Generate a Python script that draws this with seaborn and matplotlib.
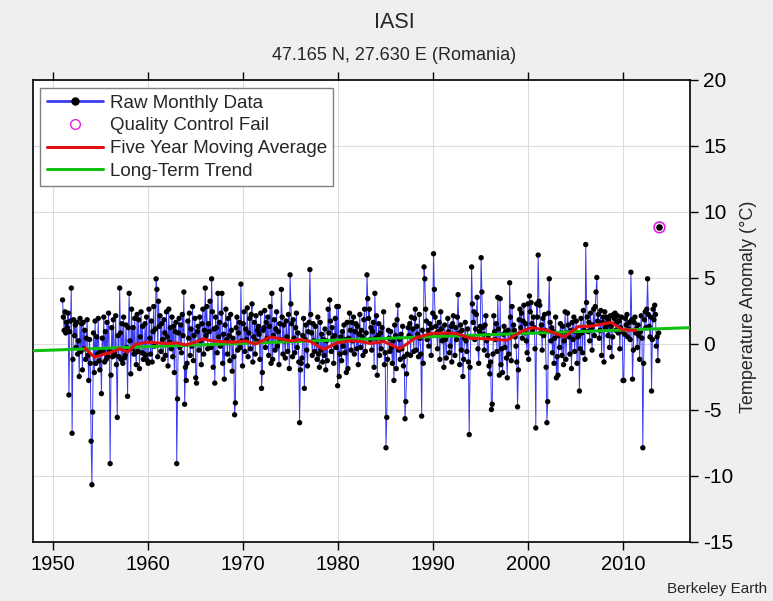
import numpy as np
import pandas as pd
import seaborn as sns
import matplotlib.pyplot as plt
from matplotlib.lines import Line2D

# valeurs (anomalies mensuelles, degC)
first_year = 1951
raw_monthly = [
    [3.3, 2.0, 1.0, 2.4, 0.8, 1.6, 1.2, 2.3, -3.9, 0.9, 1.7, 4.2],
    [-6.8, -1.2, 1.8, 0.6, 1.4, -0.3, 1.6, -0.8, 0.2, -2.5, 1.9, -0.6],
    [1.5, -2.0, 1.6, -0.4, 1.0, -1.2, 0.4, 1.8, -0.9, -2.8, 0.3, -1.5],
    [-7.4, -10.7, -5.2, 0.8, -2.2, 1.7, -1.5, 0.5, -0.8, 1.9, -1.3, -2.0],
    [-0.6, -3.8, 0.4, -0.6, 2.0, -1.4, 0.9, -1.2, 1.6, -1.0, 2.3, -0.5],
    [-9.1, -2.4, 1.2, -1.0, 1.8, -0.7, -0.9, 2.1, -1.6, -5.6, 0.6, -1.0],
    [4.2, 0.8, -1.2, 1.5, -1.5, 2.0, -1.1, -0.9, 1.4, -0.3, -4.0, 1.2],
    [3.8, 0.2, -2.3, 2.6, -0.4, 1.2, -0.8, 1.9, -0.7, -1.6, 2.2, -0.6],
    [1.8, -1.9, 0.5, 2.4, -0.7, 1.3, -1.2, -0.8, 1.5, -0.9, 2.0, -1.3],
    [-1.5, 2.6, 0.4, -0.8, 1.7, -1.4, 0.9, 2.8, -0.2, 1.1, 4.9, 4.1],
    [-1.0, 3.2, 1.3, 2.1, -0.6, 1.5, 0.3, -1.2, 1.8, 0.8, -0.9, 2.4],
    [0.5, -1.7, 2.6, 0.1, 1.2, -0.4, 2.0, -1.0, 1.3, -2.2, 0.9, 1.6],
    [-9.1, -4.2, 0.8, 1.9, -0.3, 1.4, -0.7, 2.2, 0.6, 3.9, -4.6, -1.8],
    [-2.8, -1.5, 1.7, 0.4, 2.3, -0.9, 1.1, -0.2, 2.8, -1.3, 0.6, 1.9],
    [-2.6, -3.0, 0.9, 1.3, -0.5, 2.0, 0.2, -1.6, 1.5, 2.6, -0.8, 1.0],
    [4.2, 0.6, 2.8, -0.4, 1.5, 0.9, 3.2, -0.3, 4.9, 2.4, -1.8, 1.1],
    [-3.0, 2.0, 1.2, -0.7, 3.8, 0.5, 1.6, -0.2, 2.3, 3.8, -1.5, 0.7],
    [-2.7, 1.4, 2.6, 0.3, -0.8, 1.9, 0.6, -1.3, 2.2, 1.0, -2.1, 0.4],
    [-1.0, -5.4, -4.5, 1.2, 2.0, -0.5, 0.8, 1.6, -0.3, 4.5, 0.2, -1.7],
    [1.5, 2.4, -0.6, 1.1, 0.3, 2.7, -1.0, 0.8, 1.9, -0.4, 2.2, 3.0],
    [-1.4, 0.5, 1.6, -0.8, 2.1, 0.2, 1.0, 1.3, 0.7, -1.2, 2.3, -3.4],
    [-2.2, 1.0, 1.2, 2.5, -0.3, 1.6, 0.4, 2.0, -0.9, 1.3, 2.8, -1.5],
    [3.8, -1.2, 0.6, 1.8, -0.5, 1.1, 2.4, -0.2, 0.9, -1.6, 1.5, 0.3],
    [4.1, 2.0, -0.8, 1.4, 0.2, -1.1, 1.7, 0.5, -0.6, 2.2, -1.9, 5.2],
    [3.0, 1.5, -1.0, 1.8, 0.4, -0.7, 1.2, 2.3, -0.3, 0.8, -1.4, -6.0],
    [-2.0, -1.5, -1.1, 0.6, 1.9, -3.4, 0.3, 1.4, -0.5, -1.7, 0.9, 1.6],
    [5.6, 2.2, 0.8, -0.9, 1.5, 0.2, -0.6, 1.3, 0.1, -1.2, 2.0, -0.8],
    [-1.8, 1.6, -0.5, 0.7, -1.4, 0.3, -0.9, 1.1, -2.0, 0.2, -1.3, 2.6],
    [0.8, 3.3, 1.7, -0.6, 1.2, 0.4, -1.5, 0.6, 1.9, -0.3, 2.8, -3.2],
    [2.8, -2.5, -0.8, 0.5, -1.3, 0.9, -0.2, 1.4, -0.7, 0.3, -2.2, 1.6],
    [-1.9, 0.4, 2.3, 1.0, -0.5, 1.6, 0.2, 2.0, -0.8, 0.9, 1.5, -0.4],
    [1.3, -1.6, 0.7, 2.2, -0.3, 1.0, 0.5, -0.9, 1.8, 2.6, -0.6, 0.8],
    [5.2, 3.4, 1.9, 2.6, 0.3, 1.2, -0.5, 0.9, 1.6, -1.8, 3.8, 0.4],
    [2.1, -2.4, 0.6, 1.5, -0.9, 0.8, -0.4, 1.2, 0.3, 2.4, -1.6, -0.7],
    [-7.9, -5.6, -1.2, 1.0, 0.4, -0.6, 0.9, -0.3, -1.5, 0.2, -2.8, 1.4],
    [0.6, -1.9, 1.8, 2.9, -0.5, 0.3, -1.2, 0.7, -0.4, 1.3, -1.7, -1.0],
    [-5.7, -4.4, -2.3, -0.8, 1.2, 0.6, 1.5, -0.9, 2.0, 0.4, 1.1, -0.6],
    [1.9, 2.6, -0.5, 1.3, 0.7, -1.0, 2.2, 0.4, -0.8, -5.5, 1.0, -1.5],
    [5.8, 4.9, 2.6, 1.7, 0.3, 1.0, -0.2, 1.5, 0.6, -0.9, 1.2, 2.3],
    [6.8, 4.1, 2.0, 1.3, 0.8, -0.4, 0.9, 1.6, -1.2, 2.4, 1.1, 0.2],
    [0.5, -1.8, 1.4, 0.3, -1.1, 0.6, 1.9, 0.9, -0.7, -0.2, 1.3, -1.4],
    [1.5, 2.1, 0.7, -0.9, 1.2, 0.3, 2.0, 3.7, 0.8, -1.6, 1.4, -0.5],
    [1.0, -2.5, -1.2, 0.4, 1.6, 0.2, -0.6, 1.1, -1.4, -6.9, -1.8, 0.5],
    [5.8, 3.0, 1.6, 2.4, 0.3, 1.1, 2.2, 3.5, -0.4, -1.5, 0.9, 1.3],
    [6.5, 3.9, 1.2, 0.7, -0.5, 1.4, 2.1, 0.2, -0.9, 0.6, -1.7, -2.3],
    [-1.4, -5.0, -4.6, -0.8, 2.1, 0.9, 0.3, 1.5, -0.6, 3.5, 1.1, -2.4],
    [3.4, -1.6, -0.4, -2.2, 0.7, 1.3, -0.3, 0.9, -1.1, -2.6, 1.0, -0.8],
    [4.6, 2.0, -1.3, 2.8, 0.6, 1.4, 1.0, 0.5, -0.2, -1.4, -4.8, -2.0],
    [1.8, 2.6, 1.2, 2.3, 0.4, 1.7, 2.9, 0.8, 1.5, 0.2, -0.7, 3.0],
    [-1.2, 3.6, 2.4, 3.1, 1.5, 0.9, 2.0, 1.2, -0.4, -6.4, 3.0, 2.0],
    [6.7, 3.2, 2.9, 0.8, 1.4, -0.5, 1.9, 0.6, 2.2, 1.0, -1.8, -6.0],
    [-4.4, 2.3, 4.9, 1.6, 0.2, 1.2, -0.7, 0.9, -1.5, 0.4, 2.0, -2.6],
    [-1.0, -2.4, 0.6, -0.3, 1.5, 0.8, -0.9, 1.3, -1.6, 0.2, 2.4, -1.2],
    [0.8, 2.3, 1.4, 0.5, -0.8, 1.0, -1.9, 1.6, 0.3, 2.0, -0.6, 0.9],
    [1.7, -1.5, 0.5, 0.6, -3.6, -0.4, 1.9, 0.8, -0.7, 2.5, 1.0, -1.2],
    [7.5, 3.1, 2.0, 0.9, 1.6, 0.2, 2.3, 1.1, -0.5, 1.4, 2.6, 0.6],
    [2.8, 3.9, 5.0, 1.7, 2.2, 0.4, 1.0, 2.5, -0.9, 1.6, 2.0, -1.4],
    [2.4, 1.2, 2.0, 1.5, 0.6, 1.8, -0.3, 2.1, 1.3, -1.0, 0.5, 2.2],
    [1.9, 2.3, 1.0, 1.6, 2.1, 0.8, 1.7, -0.4, 1.2, 2.0, 0.9, -2.8],
    [-2.8, 0.7, 1.9, 1.4, 2.2, 0.5, 1.1, 1.6, 0.3, 5.4, 1.8, -2.7],
    [-0.5, 1.6, 2.0, 0.8, 1.1, -0.3, 1.4, 0.6, -1.2, 0.9, 2.1, 0.4],
    [-7.9, -1.5, 1.8, 2.4, 1.2, 2.6, 4.9, 2.2, 1.3, 0.5, 2.0, -3.6],
    [0.3, 2.6, 1.8, 2.9, 2.2, -0.2, 0.5, -1.3, 0.8],
]

qc_year = [2013.79]
qc_value = [8.8]

ma_years = [1953.4, 1954.4, 1955.2, 1956.0, 1957.1, 1957.9, 1958.7, 1960.0,
            1961.0, 1962.0, 1963.0, 1964.0, 1965.0, 1965.8, 1966.8, 1967.7,
            1969.0, 1970.3, 1971.3, 1972.9, 1974.0, 1975.0, 1976.0, 1977.1,
            1978.5, 1979.9, 1981.3, 1982.4, 1983.4, 1984.8, 1986.5, 1988.1,
            1989.7, 1991.1, 1992.5, 1993.9, 1995.7, 1997.8, 1999.2, 2000.4,
            2002.0, 2003.8, 2005.3, 2006.5, 2008.7, 2009.9, 2011.0, 2011.3]
ma_values = [-0.35, -1.05, -0.85, -0.7, -0.4, -0.65, -0.05, 0.1,
             0.05, 0.0, 0.05, -0.1, 0.1, 0.35, 0.2, 0.15,
             0.1, 0.2, -0.05, 0.5, 0.35, 0.2, 0.3, 0.15,
             -0.45, 0.05, 0.2, 0.15, 0.0, 0.15, -0.4, 0.4,
             0.75, 0.8, 0.75, 0.4, 0.35, 0.25, 0.9, 1.2,
             1.0, 0.5, 1.3, 1.3, 1.6, 1.05, 1.0, 1.0]

trend_years = [1947.9, 2017.0]
trend_values = [-0.55, 1.2]

# mise en forme des donnees
rows = []
for i, vals in enumerate(raw_monthly):
    for m, v in enumerate(vals):
        rows.append((first_year + i + (m + 0.5) / 12, v))
df_raw = pd.DataFrame(rows, columns=["year", "anomaly"])
df_ma = pd.DataFrame({"year": ma_years, "anomaly": ma_values})
df_trend = pd.DataFrame({"year": trend_years, "anomaly": trend_values})

sns.set_style("whitegrid")
plt.rcParams['font.family'] = ['Liberation Sans', 'DejaVu Sans']
plt.rcParams['axes.unicode_minus'] = False

fig = plt.figure(figsize=(7.73, 6.01), dpi=100)
fig.patch.set_facecolor('#efefef')
ax = fig.add_axes([0.0423, 0.099, 0.8503, 0.7687])
ax.set_facecolor('white')

sns.lineplot(data=df_raw, x="year", y="anomaly", ax=ax, color='#3b3bf0',
             linewidth=0.7, zorder=2, estimator=None, sort=False)
sns.scatterplot(data=df_raw, x="year", y="anomaly", ax=ax, color='black',
                s=15, edgecolor='none', zorder=2.5)
sns.lineplot(data=df_trend, x="year", y="anomaly", ax=ax, color='#10c010',
             linewidth=2.2, zorder=3)
sns.lineplot(data=df_ma, x="year", y="anomaly", ax=ax, color='#e01010',
             linewidth=2.2, zorder=4, estimator=None, sort=False)
ax.scatter(qc_year, qc_value, s=14, color='black', zorder=5)
ax.scatter(qc_year, qc_value, s=60, facecolor='none', edgecolor='#e020e0',
           linewidth=1.2, zorder=5)

ax.set_xlim(1947.9, 2017.0)
ax.set_ylim(-15, 20)
ax.set_xticks(range(1950, 2011, 10))
ax.set_yticks(range(-15, 21, 5))
ax.set_xlabel("")
ax.set_ylabel("")
ax.grid(True, color='#dcdcdc', linewidth=0.8)
for s in ax.spines.values():
    s.set_color('black')
    s.set_linewidth(1.2)

ax.yaxis.tick_right()
ax.tick_params(axis='y', which='both', left=False, right=True, direction='out',
               length=6, width=1, labelsize=15, colors='black')
ax.tick_params(axis='x', which='both', top=True, bottom=True, direction='out',
               length=6, width=1, labelsize=14.5, colors='black')

fig.text(0.968, 0.49, "Temperature Anomaly (°C)", rotation=90, ha='center',
         va='center', fontsize=13)
fig.text(0.51, 0.963, "IASI", ha='center', va='center', fontsize=15.5)
fig.text(0.51, 0.908, "47.165 N, 27.630 E (Romania)", ha='center',
         va='center', fontsize=13)
fig.text(0.993, 0.02, "Berkeley Earth", ha='right', va='center', fontsize=11)

handles = [
    Line2D([0], [0], color='#3b3bf0', linewidth=2, marker='o',
           markerfacecolor='black', markeredgecolor='black', markersize=5),
    Line2D([0], [0], linestyle='none', marker='o', markerfacecolor='none',
           markeredgecolor='#e020e0', markersize=7),
    Line2D([0], [0], color='#e01010', linewidth=2.2),
    Line2D([0], [0], color='#10c010', linewidth=2.2),
]
labels = ["Raw Monthly Data", "Quality Control Fail",
          "Five Year Moving Average", "Long-Term Trend"]
leg = ax.legend(handles, labels, loc='upper left', bbox_to_anchor=(0.006, 0.99),
                fontsize=13.5, handlelength=3.0, fancybox=False, framealpha=1,
                edgecolor='#808080', borderpad=0.35, labelspacing=0.3,
                handletextpad=0.35, borderaxespad=0.2)
leg.get_frame().set_linewidth(1.0)

fig.savefig("out.png", dpi=100, facecolor=fig.get_facecolor())
